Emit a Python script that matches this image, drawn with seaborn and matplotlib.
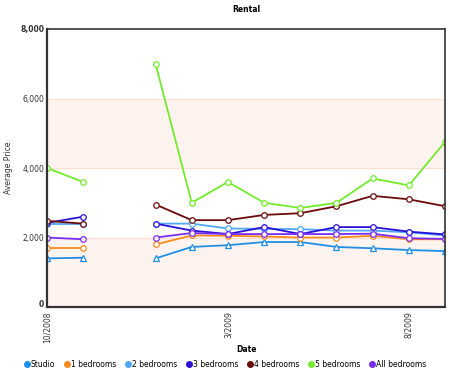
import numpy as np
import pandas as pd
import matplotlib
matplotlib.use('Agg')
import matplotlib.pyplot as plt
from matplotlib.lines import Line2D
import seaborn as sns

# data (no listing for 12/2008)
months = ['10/2008', '11/2008', '12/2008', '1/2009', '2/2009', '3/2009',
          '4/2009', '5/2009', '6/2009', '7/2009', '8/2009', '9/2009']
studio = [1400, 1420, None, 1400, 1730, 1780, 1870, 1870, 1730, 1690, 1640, 1610]
bed1 = [1700, 1700, None, 1800, 2060, 2050, 2030, 2000, 2000, 2050, 1950, 1950]
bed2 = [2400, 2400, None, 2400, 2400, 2260, 2250, 2240, 2200, 2200, 2150, 2060]
bed3 = [2420, 2600, None, 2400, 2200, 2100, 2300, 2100, 2300, 2300, 2170, 2090]
bed4 = [2480, 2400, None, 2950, 2500, 2500, 2650, 2700, 2900, 3200, 3100, 2900]
bed5 = [4000, 3600, None, 7000, 3000, 3600, 3000, 2850, 3000, 3700, 3500, 4750]
allbed = [2000, 1950, None, 2000, 2130, 2100, 2100, 2100, 2100, 2110, 1980, 1960]

names = ['Studio', '1 bedrooms', '2 bedrooms', '3 bedrooms', '4 bedrooms', '5 bedrooms', 'All bedrooms']
series = [studio, bed1, bed2, bed3, bed4, bed5, allbed]
colors = ['#1f8fe6', '#ff8a1c', '#4ea8f5', '#2a10d8', '#6a0a0a', '#72ec2a', '#7a2cf0']
tick_labels = ['10/2008', '3/2009', '8/2009']

rows = []
for name, vals in zip(names, series):
    for i, v in enumerate(vals):
        if v is None:
            continue
        rows.append({'type': name, 'm': i, 'price': v, 'seg': 0 if i < 2 else 1})
df = pd.DataFrame(rows)

fig = plt.figure(figsize=(4.5, 3.74), dpi=100)
ax = fig.add_axes([0.1044, 0.179, 0.8846, 0.7435])

# banded background
ax.axhspan(0, 2000, color='#fff3ef', zorder=0)
ax.axhspan(4000, 6000, color='#fff3ef', zorder=0)
for g in [2000, 4000, 6000]:
    ax.axhline(g, color='#fbe0d2', lw=0.8, zorder=0.5)

markers = {n: 'o' for n in names}
markers['Studio'] = '^'
sns.lineplot(data=df, x='m', y='price', hue='type', style='type', units='seg',
             estimator=None, palette=dict(zip(names, colors)), markers=markers,
             dashes=False, legend=False, lw=1.3, ms=4, ax=ax)
for line in ax.lines:
    if line.get_marker() in ('o', '^'):
        line.set_markerfacecolor('white')
        line.set_markeredgecolor(line.get_color())
        line.set_markeredgewidth(0.9)

ax.set_xlim(0, 11)
ax.set_ylim(0, 8000)
ax.set_xticks([months.index(t) for t in tick_labels])
ax.set_xticklabels(tick_labels, rotation=90, fontsize=5.5, color='#333333')
ax.set_yticks([0, 2000, 4000, 6000, 8000])
ax.set_yticklabels(['0', '2,000', '4,000', '6,000', '8,000'], fontsize=5.5, color='#333333')
for lab in ax.get_yticklabels():
    if lab.get_text() in ('0', '8,000'):
        lab.set_fontweight('bold')
    if lab.get_text() == '0':
        lab.set_va('baseline')
ax.tick_params(length=0, pad=2)
ax.tick_params(axis='x', pad=3)
for s in ax.spines.values():
    s.set_color('#333333')
    s.set_linewidth(1.2)
ax.spines['left'].set_linewidth(1.6)
ax.spines['bottom'].set_linewidth(1.6)

ax.set_title('Rental', fontsize=5.5, fontweight='bold', pad=12)
ax.set_xlabel('Date', fontsize=5.5, fontweight='bold', labelpad=2)
ax.set_ylabel('Average Price', fontsize=5.5, color='#333333', labelpad=5)

handles = [Line2D([], [], ls='none', marker='o', color=c, ms=4) for c in colors]
fig.legend(handles, names, loc='lower center', bbox_to_anchor=(0.5, 0.005), ncol=7,
           frameon=False, fontsize=5.5, handletextpad=0.05, columnspacing=1.2,
           handlelength=0.8, borderaxespad=0.0)

fig.savefig('out.png', dpi=100)
